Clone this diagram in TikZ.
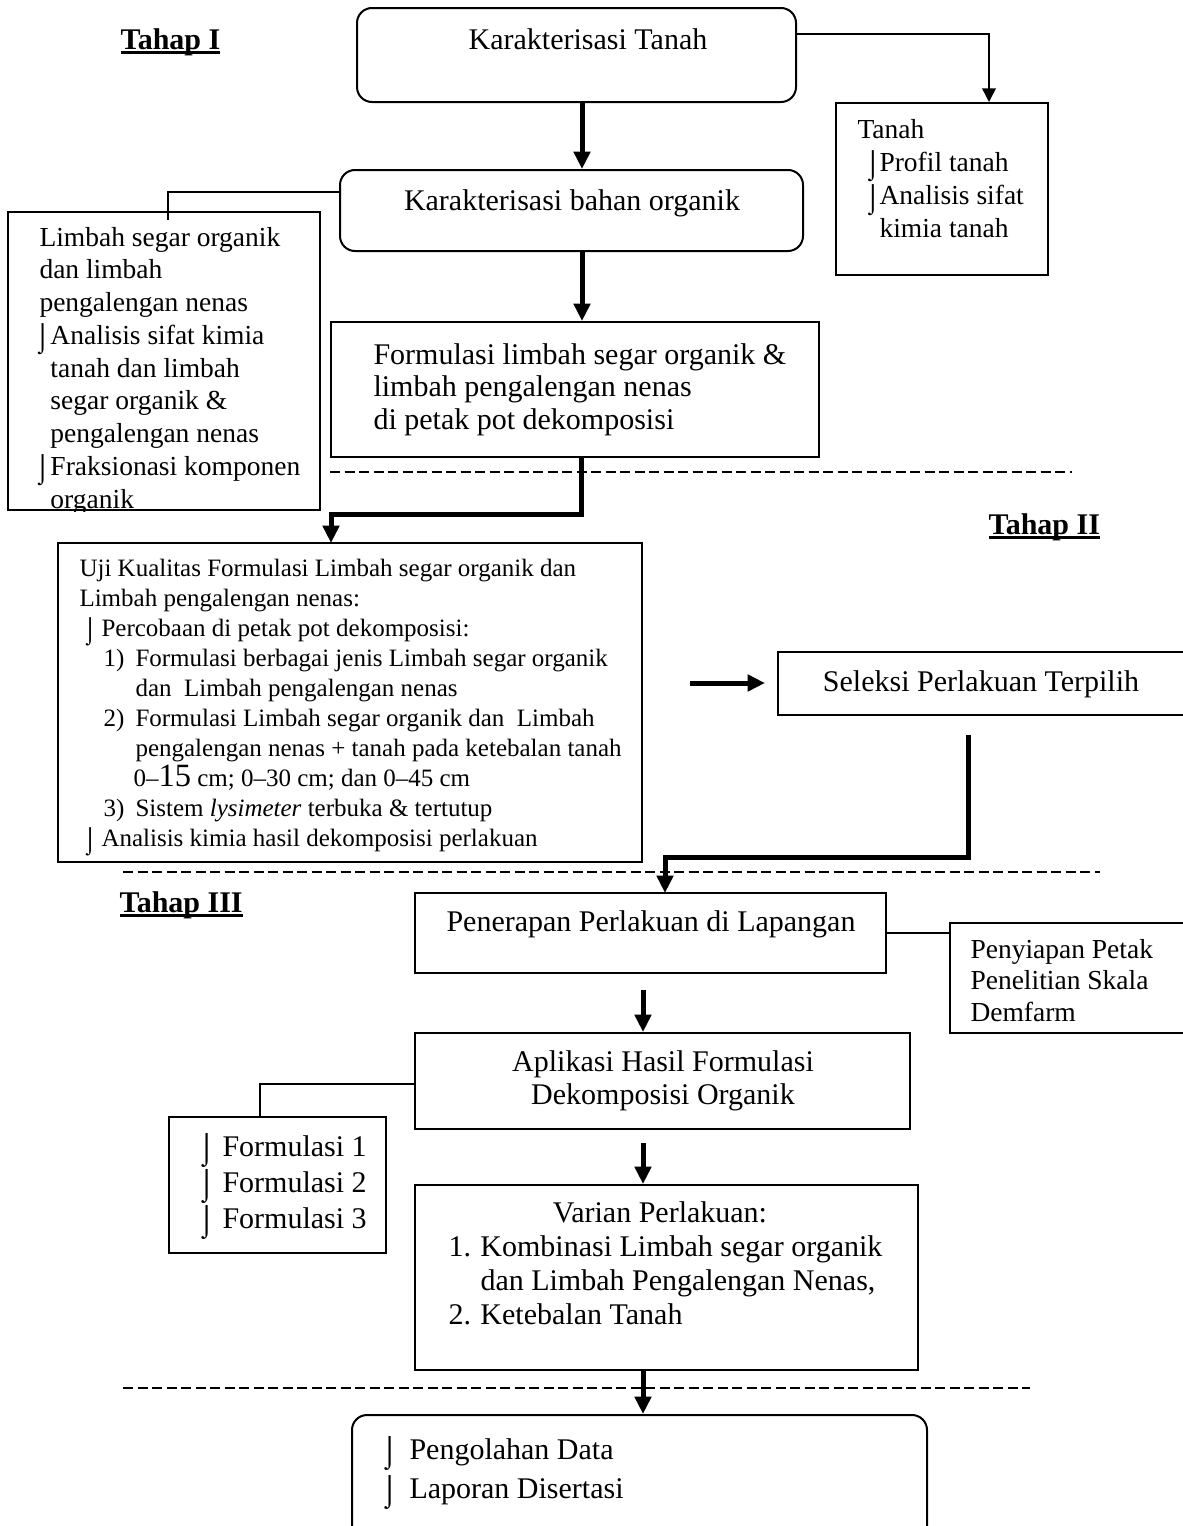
\documentclass[tikz,border=0pt]{standalone}
\usepackage{fontspec}
\usepackage{graphicx}
\setmainfont{Liberation Serif}
\usetikzlibrary{arrows.meta,fit}
\newcommand\bul{\smash{\raisebox{-1pt}{⌡}}}
\newcommand\bx[2][0pt]{\makebox[#2][l]{\hspace{#1}\bul}}
\newcommand\ls[1]{\begin{tabular}[t]{@{}l@{}}#1\end{tabular}}
\newcommand\cs[1]{\begin{tabular}[t]{@{}c@{}}#1\end{tabular}}
\newcommand\myul[1]{\setbox0\hbox{#1}\rlap{\rule[-1.9pt]{\wd0}{1pt}}\box0}
\begin{document}
\begin{tikzpicture}[x=0.4pt,y=-0.4pt,
  box/.style={draw, line width=0.8pt, inner sep=0pt},
  rbox/.style={box, rounded corners=6pt},
  txt/.style={inner sep=0pt, font=\fontsize{12}{13.5}\selectfont},
  tahap/.style={inner sep=0pt, anchor=base west, font=\fontsize{12}{13.5}\selectfont\bfseries},
  thinline/.style={line width=0.6pt},
  thinarrow/.style={line width=0.6pt, -{Triangle[length=5.5pt,width=5.5pt]}},
  thickarrow/.style={line width=2pt, line join=miter, -{Triangle[length=7pt,width=6.5pt]}},
  dline/.style={line width=0.6pt, dash pattern=on 4pt off 1.8pt}]
\useasboundingbox (0,0) rectangle (1182,1526);

% stage labels
\node[tahap] (t1) at (120,49) {\myul{Tahap I}};
\node[tahap] (t2) at (988,534) {\myul{Tahap II}};
\node[tahap] (t3) at (119,912) {\myul{Tahap III}};

% Stage I
\node[rbox, fit={(357,8)(796,102)}] (b1) {};
\node[txt, anchor=base] (b1t) at (588,49) {Karakterisasi Tanah};

\node[box, fit={(836,103)(1048,275)}] (tanah) {};
\node[txt, anchor=base west, font=\fontsize{11}{13.3}\selectfont] (tanaht) at (857,138)
  {\ls{Tanah\\ \bx[2.8pt]{8.8pt}Profil tanah\\ \bx[2.8pt]{8.8pt}Analisis sifat\\ \hspace{8.8pt}kimia tanah}};

\node[rbox, fit={(340,170)(803,251)}] (b2) {};
\node[txt, anchor=base] (b2t) at (572,210) {Karakterisasi bahan organik};

\node[box, fit={(8,212)(320,510)}] (lb) {};
\begin{scope}
\clip (lb.north west) rectangle (lb.south east);
\node[txt, anchor=base west, font=\fontsize{11}{13.1}\selectfont] (lbt) at (34,246)
  {\ls{\hspace{2pt}Limbah segar organik\\ \hspace{2pt}dan limbah\\ \hspace{2pt}pengalengan nenas\\
  \bx{6.4pt}Analisis sifat kimia\\ \hspace{6.4pt}tanah dan limbah\\ \hspace{6.4pt}segar organik \&\\
  \hspace{6.4pt}pengalengan nenas\\ \bx{6.4pt}Fraksionasi komponen\\ \hspace{6.4pt}organik}};
\end{scope}

\node[box, fit={(331,322)(819,457)}] (fm) {};
\node[txt, anchor=base west, font=\fontsize{12}{13}\selectfont] (fmt) at (373,364)
  {\ls{Formulasi limbah segar organik \&\\ limbah pengalengan nenas\\ di petak pot dekomposisi}};

\coordinate (cx) at (582,0);
\draw[thickarrow] (b1.south -| cx) -- (b2.north -| cx);
\draw[thickarrow] (b2.south -| cx) -- (fm.north -| cx);

\coordinate (c1) at (989,34);
\draw[thinarrow] (b1.east |- c1) -| (tanah.north -| c1);

\coordinate (c2) at (168,192);
\coordinate (c2e) at (168,220);
\draw[thinline] (b2.west |- c2) -| (c2e);

% dashed separator 1
\coordinate (d1a) at (330,472);
\coordinate (d1b) at (1072,472);
\draw[dline] (d1a) -- (d1b);

% Stage II
\node[box, fit={(58,543)(642,862)}] (uji) {};
\node[txt, anchor=base west, font=\fontsize{10}{12}\selectfont] (ujit) at (79,576)
  {\ls{Uji Kualitas Formulasi Limbah segar organik dan\\
  Limbah pengalengan nenas:\\
  \bx[1.2pt]{8.8pt}Percobaan di petak pot dekomposisi:\\
  \hspace{9.6pt}\makebox[12.8pt][l]{1)}Formulasi berbagai jenis Limbah segar organik\\
  \hspace{22.4pt}dan\ \ Limbah pengalengan nenas\\
  \hspace{9.6pt}\makebox[12.8pt][l]{2)}Formulasi Limbah segar organik dan\ \ Limbah\\
  \hspace{22.4pt}pengalengan nenas + tanah pada ketebalan tanah\\
  \hspace{21.6pt}0--{\fontsize{13}{12}\selectfont 15} cm; 0--30 cm; dan 0--45 cm\\
  \hspace{9.6pt}\makebox[12.8pt][l]{3)}Sistem \textit{lysimeter} terbuka \& tertutup\\
  \bx[1.2pt]{8.8pt}Analisis kimia hasil dekomposisi perlakuan}};

\coordinate (fb) at (581,457);
\coordinate (fbend) at (581,514);
\coordinate (ujin) at (331,543);
\draw[thickarrow] (fb) -- (fbend) -| (ujin);

\node[box, fit={(778,652)(1192,715)}] (sel) {};
\node[txt, anchor=base] (selt) at (981,691) {Seleksi Perlakuan Terpilih};

\coordinate (fa) at (690,683);
\draw[thickarrow, shorten >=4.8pt] (fa) -- (fa -| sel.west);

\coordinate (sl) at (968,735);
\coordinate (sbend) at (968,857);
\coordinate (ptop) at (665,893);
\draw[thickarrow] (sl) -- (sbend) -| (ptop);

% dashed separator 2
\coordinate (d2a) at (123,872);
\coordinate (d2b) at (1100,872);
\draw[dline] (d2a) -- (d2b);

% Stage III
\node[box, fit={(415,893)(886,973)}] (pen) {};
\node[txt, anchor=base] (pent) at (651,931) {Penerapan Perlakuan di Lapangan};

\node[box, fit={(950,923)(1192,1033)}] (peny) {};
\node[txt, anchor=base west, font=\fontsize{11}{12.6}\selectfont] (penyt) at (970,958)
  {\ls{Penyiapan Petak\\ Penelitian Skala\\ Demfarm}};
\draw[thinline] (pen.east) -- (pen.east -| peny.west);

\node[box, fit={(415,1033)(910,1129)}] (apl) {};
\node[txt, anchor=base, font=\fontsize{12}{13.2}\selectfont] (aplt) at (663,1071)
  {\cs{Aplikasi Hasil Formulasi\\ Dekomposisi Organik}};

\coordinate (a2s) at (643,990);
\draw[thickarrow] (a2s) -- (a2s |- apl.north);

\node[box, fit={(169,1117)(386,1253)}] (fs) {};
\node[txt, anchor=base west, font=\fontsize{12}{14.4}\selectfont] (fst) at (197,1156)
  {\ls{\bx{10pt}Formulasi 1\\ \bx{10pt}Formulasi 2\\ \bx{10pt}Formulasi 3}};

\coordinate (c3) at (260,1084);
\draw[thinline] (apl.west |- c3) -| (fs.north -| c3);

\node[box, fit={(415,1185)(918,1370)}] (var) {};
\node[txt, anchor=base] (vart) at (660,1222) {Varian Perlakuan:};
\node[txt, anchor=base west, font=\fontsize{12}{13.6}\selectfont] (varl) at (448,1256)
  {\ls{\makebox[12.8pt][l]{1.}Kombinasi Limbah segar organik\\
  \hspace{12.8pt}dan Limbah Pengalengan Nenas,\\
  \makebox[12.8pt][l]{2.}Ketebalan Tanah}};

\coordinate (a3s) at (643,1143);
\draw[thickarrow] (a3s) -- (a3s |- var.north);

% dashed separator 3
\coordinate (d3a) at (123,1388);
\coordinate (d3b) at (1030,1388);
\draw[dline] (d3a) -- (d3b);

\node[rbox, fit={(352,1415)(927,1545)}] (fin) {};
\node[txt, anchor=base west, font=\fontsize{12}{15.6}\selectfont] (fint) at (380,1459)
  {\ls{\bx{11.6pt}Pengolahan Data\\ \bx{11.6pt}Laporan Disertasi}};

\draw[thickarrow] (var.south -| a2s) -- (fin.north -| a2s);
\end{tikzpicture}
\end{document}
